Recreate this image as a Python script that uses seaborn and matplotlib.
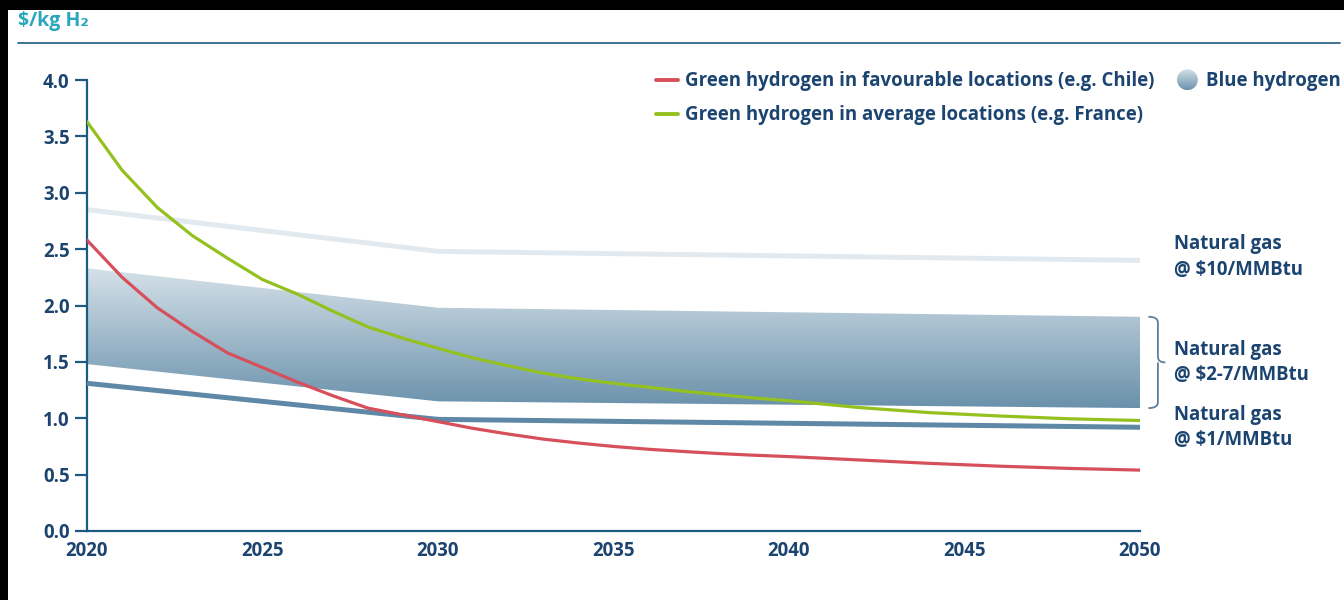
import numpy as np
import pandas as pd
import matplotlib
matplotlib.use('Agg')
import matplotlib.pyplot as plt
import seaborn as sns
from matplotlib.colors import LinearSegmentedColormap
from matplotlib.lines import Line2D
from matplotlib.patches import Rectangle, Circle, PathPatch
from matplotlib.path import Path
from matplotlib.legend_handler import HandlerBase
from matplotlib.image import BboxImage
from matplotlib.transforms import Bbox, TransformedBbox

# Data
years_green = [2020, 2021, 2022, 2023, 2024, 2025, 2026, 2027, 2028, 2029, 2030,
               2031, 2032, 2033, 2034, 2035, 2036, 2037, 2038, 2039, 2040,
               2042, 2044, 2046, 2048, 2050]
green_chile = [2.58, 2.25, 1.98, 1.77, 1.58, 1.45, 1.32, 1.20, 1.09, 1.03, 0.97,
               0.91, 0.86, 0.815, 0.78, 0.75, 0.725, 0.705, 0.687, 0.672, 0.66,
               0.63, 0.60, 0.575, 0.555, 0.54]
green_france = [3.63, 3.20, 2.87, 2.62, 2.42, 2.23, 2.10, 1.95, 1.81, 1.71, 1.62,
                1.535, 1.465, 1.40, 1.35, 1.31, 1.275, 1.24, 1.21, 1.18, 1.155,
                1.095, 1.05, 1.02, 0.995, 0.98]

years_gas = [2020, 2030, 2050]
gas_10 = [2.85, 2.48, 2.40]
blue_top = [2.33, 1.98, 1.90]
blue_bottom = [1.48, 1.15, 1.09]
gas_1 = [1.31, 0.99, 0.92]

label_chile = "Green hydrogen in favourable locations (e.g. Chile)"
label_france = "Green hydrogen in average locations (e.g. France)"
label_blue = "Blue hydrogen"
gas_labels = ["Natural gas\n@ $10/MMBtu", "Natural gas\n@ $2-7/MMBtu", "Natural gas\n@ $1/MMBtu"]

df_green = pd.DataFrame({"year": years_green, "chile": green_chile, "france": green_france})
df_gas = pd.DataFrame({"year": years_gas, "g10": gas_10, "top": blue_top,
                       "bottom": blue_bottom, "g1": gas_1})

navy = "#1b4470"
axis_col = "#1d5a82"
red = "#d6505c"
lime = "#94c11f"
light = "#e2eaf0"
dark = "#5f88a6"
fs = 13.4

sns.set_theme(style="white")
plt.rcParams['font.family'] = ['Open Sans', 'DejaVu Sans']
plt.rcParams['font.weight'] = 'bold'

fig = plt.figure(figsize=(13.44, 6.0), dpi=100)
ax = fig.add_axes([87 / 1344, 1 - 531 / 600, (1140 - 87) / 1344, (531 - 80) / 600])

# lines
sns.lineplot(data=df_gas, x="year", y="g10", ax=ax, color=light, lw=3.6, zorder=1)

poly = ax.fill_between(df_gas["year"], df_gas["bottom"], df_gas["top"], color="none", lw=0)
cmap = LinearSegmentedColormap.from_list("band", ["#6a91ab", "#d5e1e9"])
grad = np.linspace(0, 1, 256).reshape(-1, 1)
im = ax.imshow(grad, cmap=cmap, origin="lower", aspect="auto", zorder=2,
               extent=[years_gas[0], years_gas[-1], min(blue_bottom), max(blue_top)])
im.set_clip_path(poly.get_paths()[0], poly.get_transform())

sns.lineplot(data=df_gas, x="year", y="g1", ax=ax, color=dark, lw=3.6, zorder=3)
sns.lineplot(data=df_green, x="year", y="france", ax=ax, color=lime, lw=2.3, zorder=4)
sns.lineplot(data=df_green, x="year", y="chile", ax=ax, color=red, lw=2.3, zorder=5)

ax.set_xlim(2020, 2050)
ax.set_ylim(0, 4)
ax.set_xticks(range(2020, 2051, 5))
ax.set_yticks(np.arange(0, 4.01, 0.5))
ax.yaxis.set_major_formatter(matplotlib.ticker.FormatStrFormatter("%.1f"))
ax.set_xlabel("")
ax.set_ylabel("")
for s in ["top", "right"]:
    ax.spines[s].set_visible(False)
for s in ["left", "bottom"]:
    ax.spines[s].set_color(axis_col)
    ax.spines[s].set_linewidth(1.6)
ax.tick_params(axis="y", length=8.5, width=1.6, color=axis_col, pad=4,
               labelsize=fs, labelcolor=navy, left=True)
ax.tick_params(axis="x", length=0, pad=7.5, labelsize=fs, labelcolor=navy, bottom=True)
ax.patch.set_alpha(0)


# legend with a gradient circle for blue hydrogen
class GradientCircle:
    pass


class HandlerGradientCircle(HandlerBase):
    def create_artists(self, legend, orig_handle, xdescent, ydescent, width, height,
                       fontsize, trans):
        r = 0.56 * fontsize
        cx = width / 2 - xdescent
        cy = height / 2 - ydescent
        bb = TransformedBbox(Bbox.from_bounds(cx - r, cy - r, 2 * r, 2 * r), trans)
        img = BboxImage(bb, cmap=cmap, origin="lower")
        img.set_data(grad)
        circ = Circle((cx, cy), r, transform=trans)
        img.set_clip_path(circ)
        return [img]


h_red = Line2D([], [], color=red, lw=2.8)
h_green = Line2D([], [], color=lime, lw=2.8)
leg = ax.legend([h_red, h_green, GradientCircle()], [label_chile, label_france, label_blue],
                handler_map={GradientCircle: HandlerGradientCircle()},
                ncol=2, loc="upper left", bbox_to_anchor=(0.533, 1.036), frameon=False,
                fontsize=fs, handlelength=1.2, handletextpad=0.4, columnspacing=1.15,
                labelspacing=0.75, borderaxespad=0)
for t in leg.get_texts():
    t.set_color(navy)

# right-hand labels
lab_y = [gas_10[-1] + 0.03, (blue_top[-1] + blue_bottom[-1]) / 2, gas_1[-1]]
for txt, yy in zip(gas_labels, lab_y):
    ax.text(1.032, yy, txt, transform=ax.get_yaxis_transform(), va="center", ha="left",
            fontsize=fs, color=navy, linespacing=1.35, parse_math=False)

# curly brace for the blue hydrogen range
yt, yb = blue_top[-1], blue_bottom[-1]
ym = (yt + yb) / 2
x0, x1, x2 = 1.008, 1.017, 1.024
d = 0.05
verts = [(x0, yt), (x1, yt), (x1, yt - d), (x1, ym + d), (x1, ym), (x2, ym),
         (x1, ym), (x1, ym - d), (x1, yb + d), (x1, yb), (x0, yb)]
codes = [Path.MOVETO, Path.CURVE3, Path.CURVE3, Path.LINETO, Path.CURVE3, Path.CURVE3,
         Path.MOVETO, Path.CURVE3, Path.LINETO, Path.CURVE3, Path.CURVE3]
brace = PathPatch(Path(verts, codes), transform=ax.get_yaxis_transform(), fill=False,
                  edgecolor="#5b7f9c", lw=1.3, clip_on=False)
ax.add_patch(brace)

# header
fig.text(18 / 1344, 1 - 21 / 600, "$/kg H₂", color="#2aa6bf", fontsize=14,
         va="center", ha="left", parse_math=False)
fig.add_artist(Line2D([18 / 1344, 1340 / 1344], [1 - 43 / 600] * 2, color=axis_col, lw=1.2))

# black frame strips of the original screenshot
fig.add_artist(Rectangle((0, 1 - 10 / 600), 1, 10 / 600, color="black", lw=0))
fig.add_artist(Rectangle((0, 0), 8 / 1344, 1, color="black", lw=0))

fig.savefig("out.png", dpi=100)
plt.close(fig)
